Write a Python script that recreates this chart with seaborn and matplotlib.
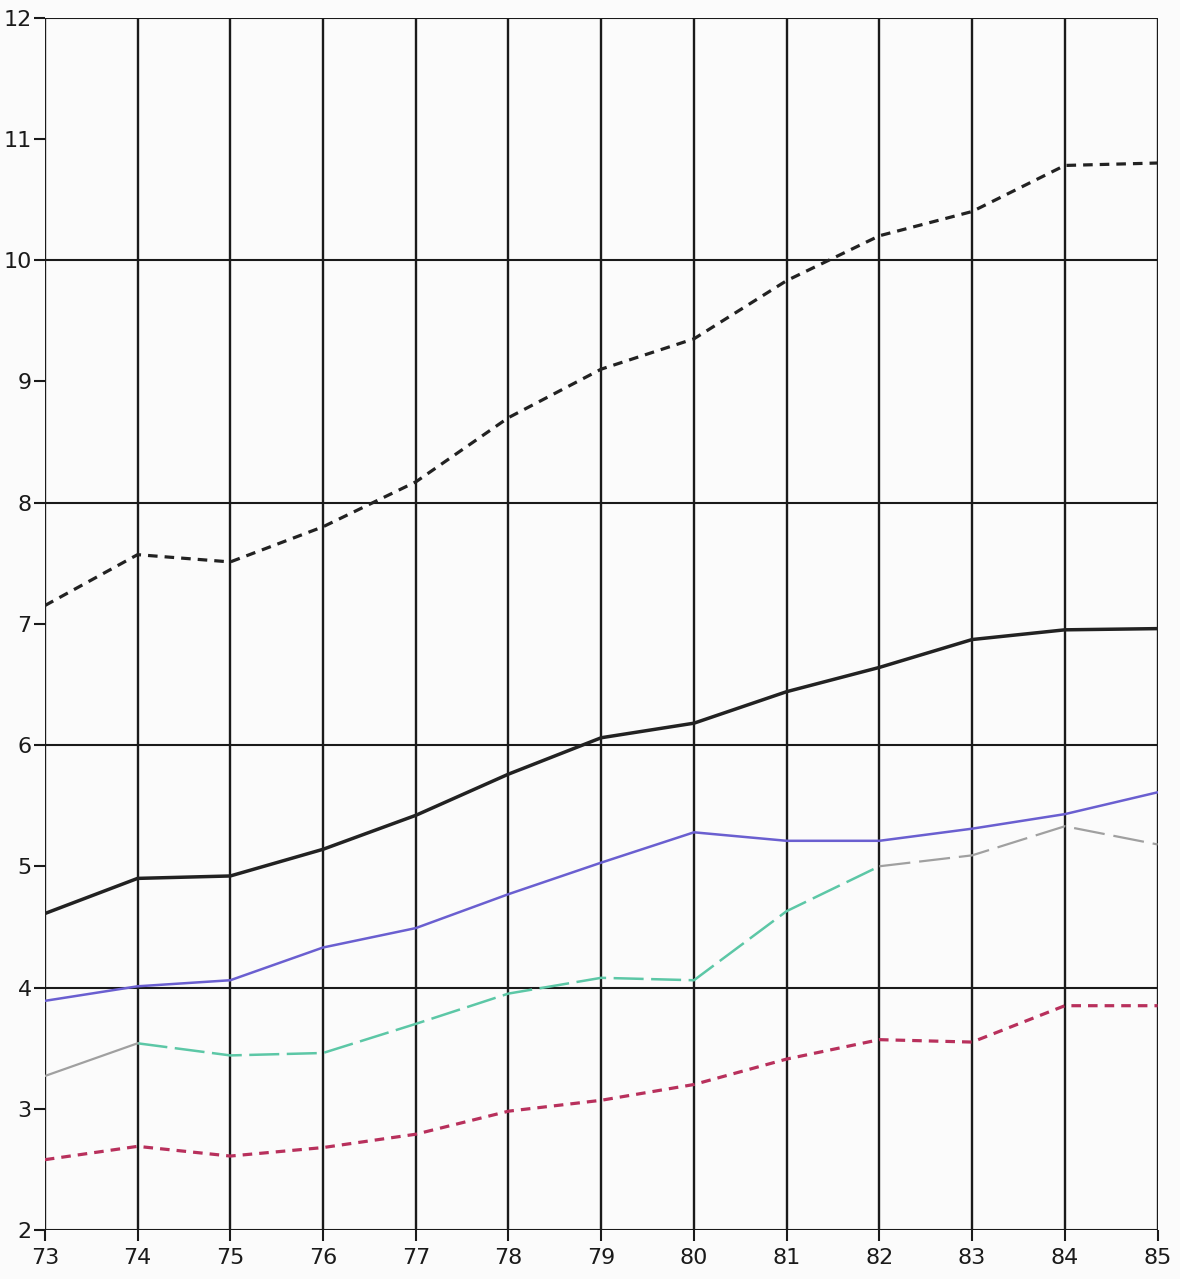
import numpy as np
import pandas as pd
import matplotlib
matplotlib.use("Agg")
import matplotlib.pyplot as plt
import seaborn as sns

# datos
anios = [73, 74, 75, 76, 77, 78, 79, 80, 81, 82, 83, 84, 85]
serie_negra_disc = [7.15, 7.57, 7.51, 7.80, 8.17, 8.70, 9.10, 9.35, 9.83, 10.20, 10.40, 10.78, 10.80]
serie_negra = [4.61, 4.90, 4.92, 5.14, 5.42, 5.76, 6.06, 6.18, 6.44, 6.64, 6.87, 6.95, 6.96]
serie_azul = [3.89, 4.01, 4.06, 4.33, 4.49, 4.77, 5.03, 5.28, 5.21, 5.21, 5.31, 5.43, 5.61]
serie_verde = [3.27, 3.54, 3.44, 3.46, 3.70, 3.95, 4.08, 4.06, 4.63, 5.00, 5.09, 5.33, 5.18]
serie_roja = [2.58, 2.69, 2.61, 2.68, 2.79, 2.98, 3.07, 3.20, 3.41, 3.57, 3.55, 3.85, 3.85]

y_ticks = list(range(2, 13))
y_grid = [2, 4, 6, 8, 10, 12]

sns.set_style("white")
plt.rcParams['font.family'] = ['DejaVu Sans']

fig = plt.figure(figsize=(11.8, 12.79), dpi=100)
fig.patch.set_facecolor("#fbfbfb")
ax = fig.add_axes([0.038, 0.0383, 0.943, 0.948])
ax.set_facecolor("#fbfbfb")

df = pd.DataFrame({"anio": anios, "disc": serie_negra_disc, "negra": serie_negra,
                   "azul": serie_azul, "verde": serie_verde, "roja": serie_roja})

# rejilla
for x in anios:
    ax.axvline(x, color="#1a1a1a", lw=1.7, zorder=1)
for y in y_grid:
    ax.axhline(y, color="#1a1a1a", lw=1.5, zorder=1)

sns.lineplot(data=df, x="anio", y="disc", ax=ax, color="#222222", lw=2.3,
             linestyle=(0, (3, 2.2)), zorder=3)
sns.lineplot(data=df, x="anio", y="negra", ax=ax, color="#222222", lw=2.5, zorder=3)
sns.lineplot(data=df, x="anio", y="azul", ax=ax, color="#6a5fd0", lw=1.8, zorder=3)
# serie verde con tramos grises
sns.lineplot(data=df.iloc[1:10], x="anio", y="verde", ax=ax, color="#5cc7a6", lw=1.8,
             linestyle=(0, (12, 3)), zorder=3)
sns.lineplot(data=df.iloc[0:2], x="anio", y="verde", ax=ax, color="#a0a0a0", lw=1.6, zorder=3)
sns.lineplot(data=df.iloc[9:13], x="anio", y="verde", ax=ax, color="#a0a0a0", lw=1.6,
             linestyle=(0, (14, 4)), zorder=3)
sns.lineplot(data=df, x="anio", y="roja", ax=ax, color="#b8305c", lw=2.3,
             linestyle=(0, (3, 2.2)), zorder=3)

ax.set_xlim(73, 85)
ax.set_ylim(2, 12)
ax.set_xticks(anios)
ax.set_yticks(y_ticks)
ax.tick_params(axis="both", direction="out", length=8, width=1.5, color="#1a1a1a",
               labelsize=16, labelcolor="#1a1a1a", left=True, bottom=True)
ax.tick_params(axis="y", pad=1.5)
ax.tick_params(axis="x", pad=5)
ax.set_xlabel("")
ax.set_ylabel("")
for s in ax.spines.values():
    s.set_visible(False)

plt.savefig("out.png", dpi=100, facecolor=fig.get_facecolor())
